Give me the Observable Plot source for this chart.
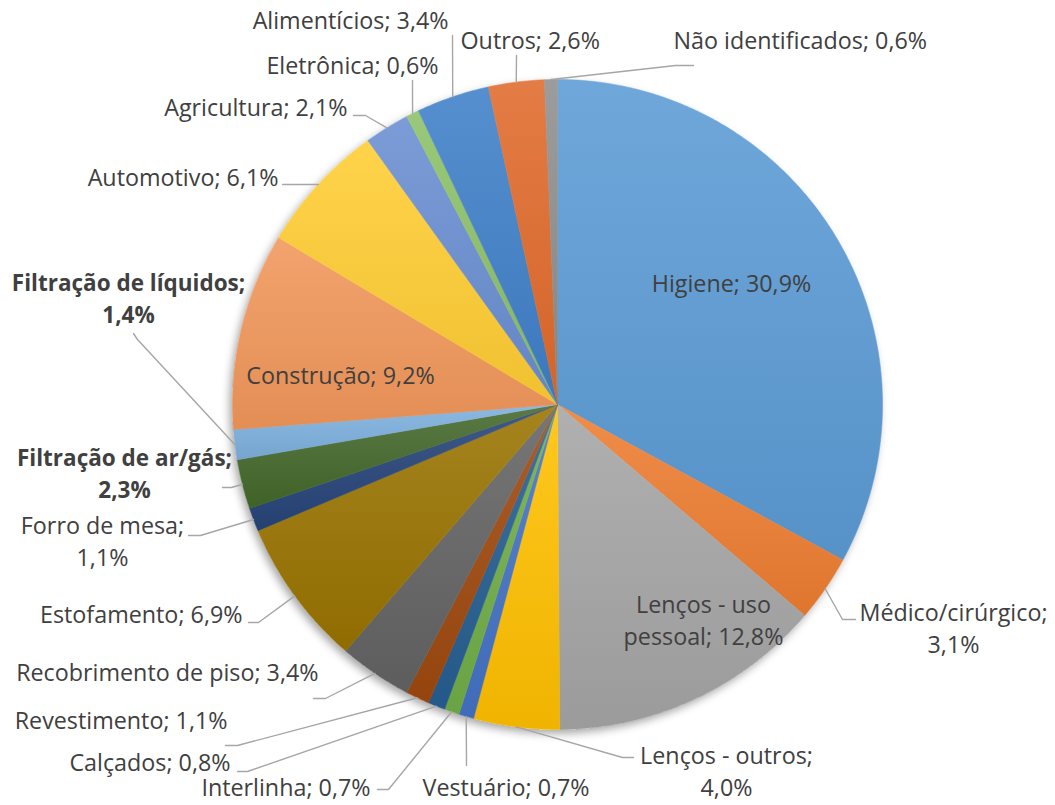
<!DOCTYPE html>
<html>
<head>
<meta charset="utf-8">
<script src="https://cdn.jsdelivr.net/npm/d3@7"></script>
<script src="https://cdn.jsdelivr.net/npm/@observablehq/plot@0.6"></script>
<style>
  html, body { margin: 0; padding: 0; background: #ffffff; }
  #chart { width: 1055px; height: 805px; }
</style>
</head>
<body>
<div id="chart"></div>
<script>
// ---------- DATA ----------
const categories = [
  "Higiene", "Médico/cirúrgico", "Lenços - uso pessoal", "Lenços - outros",
  "Vestuário", "Interlinha", "Calçados", "Revestimento", "Recobrimento de piso",
  "Estofamento", "Forro de mesa", "Filtração de ar/gás", "Filtração de líquidos",
  "Construção", "Automotivo", "Agricultura", "Eletrônica", "Alimentícios",
  "Outros", "Não identificados"
];
const shares = [30.9, 3.1, 12.8, 4.0, 0.7, 0.7, 0.8, 1.1, 3.4, 6.9, 1.1, 2.3, 1.4, 9.2, 6.1, 2.1, 0.6, 3.4, 2.6, 0.6];
const labelTexts = [
  "Higiene; 30,9%", "Médico/cirúrgico;\n3,1%", "Lenços - uso\npessoal; 12,8%", "Lenços - outros;\n4,0%",
  "Vestuário; 0,7%", "Interlinha; 0,7%", "Calçados; 0,8%", "Revestimento; 1,1%", "Recobrimento de piso; 3,4%",
  "Estofamento; 6,9%", "Forro de mesa;\n1,1%", "Filtração de ar/gás;\n2,3%", "Filtração de líquidos;\n1,4%",
  "Construção; 9,2%", "Automotivo; 6,1%", "Agricultura; 2,1%", "Eletrônica; 0,6%", "Alimentícios; 3,4%",
  "Outros; 2,6%", "Não identificados; 0,6%"
];

// ---------- STYLE ----------
const sliceColors = [
  "#5B9BD5", "#ED7D31", "#A5A5A5", "#FFC000", "#4472C4", "#70AD47", "#255E91", "#9E480E", "#636363",
  "#997300", "#264478", "#43682B", "#7CAFDD", "#F1975A", "#FFCD33", "#698ED0", "#8CC168", "#3F80C8",
  "#E06A2C", "#8E8E8E"
];

// ---------- LAYOUT ----------
const W = 1055, H = 805, CX = 557, CY = 404, R = 325;
const FONT = 23.3, FONT_BOLD = 22.5, LINE = 32;
// [x, baseline of last line, anchor, bold, leader points after the slice edge]
const labelLayout = [
  [731, 291, "middle", false, null],
  [953, 652, "middle", false, [[842, 619], [855, 619]]],
  [703, 644, "middle", false, null],
  [726, 795, "middle", false, [[622, 757], [633, 757]]],
  [422, 795, "start", false, [[466, 765]]],
  [370, 795, "end", false, [[388, 789], [377, 789]]],
  [230, 770, "end", false, [[247, 771], [237, 771]]],
  [227, 728, "end", false, [[237, 745], [225, 745]]],
  [318, 680, "end", false, [[325, 698], [313, 698]]],
  [242, 622, "end", false, [[258, 622], [248, 622]]],
  [102, 565, "middle", false, [[200, 535], [188, 535]]],
  [124, 497, "middle", true, [[231, 487], [222, 487]]],
  [128, 322, "middle", true, [[137, 339], [133, 333]]],
  [340, 383, "middle", false, null],
  [278, 185, "end", false, [[282, 184]]],
  [347, 115, "end", false, [[365, 115], [353, 115]]],
  [438, 73, "end", false, [[412, 80]]],
  [448, 28, "end", false, [[452, 35]]],
  [460, 48, "start", false, [[516, 55]]],
  [673, 48, "start", false, [[675, 65], [693, 65]]]
];

// ---------- GEOMETRY ----------
const total = d3.sum(shares);
const pol = (a, r) => ({x: CX + r * Math.sin(a), y: CY - r * Math.cos(a)});
let acc = 0;
const slices = shares.map((v, i) => {
  const a0 = (acc / total) * 2 * Math.PI;
  acc += v;
  const a1 = (acc / total) * 2 * Math.PI;
  const n = Math.max(2, Math.ceil((a1 - a0) / (Math.PI / 360)));
  const pts = [{x: CX, y: CY}];
  for (let k = 0; k <= n; ++k) pts.push(pol(a0 + (a1 - a0) * k / n, R));
  pts.push({x: CX, y: CY});
  return {i, a0, a1, mid: (a0 + a1) / 2, pts};
});

const leaderPts = [];
slices.forEach((s, i) => {
  const L = labelLayout[i][4];
  if (!L) return;
  const p0 = pol(s.mid, R);
  leaderPts.push({k: i, x: p0.x, y: p0.y});
  L.forEach(([x, y]) => leaderPts.push({k: i, x, y}));
});

const labelData = labelTexts.map((t, i) => ({
  text: t, x: labelLayout[i][0], y: labelLayout[i][1], anchor: labelLayout[i][2], bold: labelLayout[i][3]
}));

const textMarks = [];
for (const anchor of ["start", "middle", "end"]) {
  for (const bold of [false, true]) {
    const d = labelData.filter(l => l.anchor === anchor && l.bold === bold);
    if (!d.length) continue;
    const fs = bold ? FONT_BOLD : FONT;
    textMarks.push(Plot.text(d, {
      x: "x", y: "y", text: "text", textAnchor: anchor, lineAnchor: "bottom",
      lineHeight: LINE / fs, fontWeight: bold ? "bold" : "normal",
      fill: "#404040", fontSize: fs
    }));
  }
}

const chart = Plot.plot({
  width: W, height: H, margin: 0,
  x: {domain: [0, W], range: [0, W], axis: null},
  y: {domain: [0, H], range: [0, H], axis: null},
  style: {fontFamily: "'Open Sans', sans-serif", background: "#ffffff", overflow: "visible"},
  marks: [
    Plot.dot([{x: CX, y: CY}], {x: "x", y: "y", r: R, fill: "#ffffff", stroke: "none"}),
    ...slices.map(s => Plot.line(s.pts, {
      x: "x", y: "y", fill: `url(#grad${s.i})`, stroke: `url(#grad${s.i})`, strokeWidth: 0.6, curve: "linear"
    })),
    Plot.line(leaderPts, {x: "x", y: "y", z: "k", stroke: "#A6A6A6", strokeWidth: 1.4, curve: "linear"}),
    ...textMarks
  ]
});

// gradients and shadow definitions
const svg = d3.select(chart);
const defs = svg.insert("defs", ":first-child");
sliceColors.forEach((c, i) => {
  const g = defs.append("linearGradient").attr("id", `grad${i}`)
    .attr("x1", 0).attr("y1", 0).attr("x2", 0).attr("y2", 1);
  g.append("stop").attr("offset", "0%").attr("stop-color", d3.interpolateRgb(c, "#ffffff")(0.12));
  g.append("stop").attr("offset", "100%").attr("stop-color", d3.interpolateRgb(c, "#000000")(0.06));
});
const f = defs.append("filter").attr("id", "pieShadow")
  .attr("x", "-10%").attr("y", "-10%").attr("width", "120%").attr("height", "120%");
f.append("feDropShadow").attr("dx", -3).attr("dy", 4).attr("stdDeviation", 4)
  .attr("flood-color", "#000000").attr("flood-opacity", 0.35);
svg.select('g[aria-label="dot"] circle').attr("filter", "url(#pieShadow)");

document.getElementById("chart").appendChild(chart);
</script>
</body>
</html>
